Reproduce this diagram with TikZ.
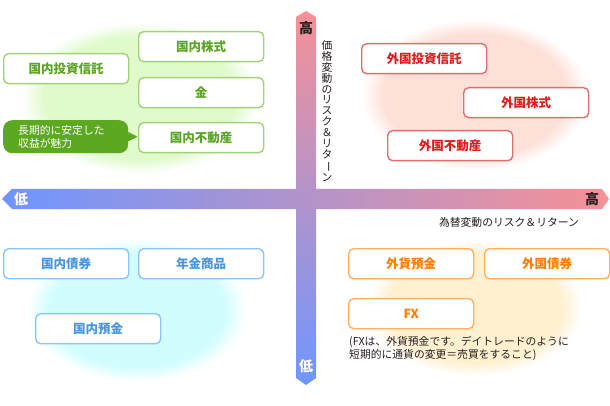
\documentclass[tikz,border=0pt]{standalone}
\usepackage{fontspec}
\usepackage{graphicx}
\newfontfamily\jp{Noto Sans CJK JP}
\definecolor{glowG}{RGB}{224,250,204}
\definecolor{glowR}{RGB}{253,224,215}
\definecolor{glowB}{RGB}{210,253,255}
\definecolor{glowO}{RGB}{255,240,208}
\definecolor{gBorder}{RGB}{160,210,120}
\definecolor{gText}{RGB}{90,165,35}
\definecolor{gFill}{RGB}{92,168,32}
\definecolor{rBorder}{RGB}{225,110,110}
\definecolor{rText}{RGB}{220,30,30}
\definecolor{bBorder}{RGB}{140,195,250}
\definecolor{bText}{RGB}{70,150,225}
\definecolor{oBorder}{RGB}{255,175,100}
\definecolor{oText}{RGB}{255,125,0}
\definecolor{axBlue}{RGB}{110,150,255}
\definecolor{axPink}{RGB}{247,145,150}
\definecolor{axDark}{RGB}{40,30,30}
\pgfdeclareradialshading{glowGs}{\pgfpoint{0bp}{0bp}}{color(0bp)=(glowG); color(14.3bp)=(glowG); color(17.7bp)=(white); color(50bp)=(white)}
\pgfdeclareradialshading{glowRs}{\pgfpoint{0bp}{0bp}}{color(0bp)=(glowR); color(14.3bp)=(glowR); color(17.7bp)=(white); color(50bp)=(white)}
\pgfdeclareradialshading{glowBs}{\pgfpoint{0bp}{0bp}}{color(0bp)=(glowB); color(14.3bp)=(glowB); color(17.7bp)=(white); color(50bp)=(white)}
\pgfdeclareradialshading{glowOs}{\pgfpoint{0bp}{0bp}}{color(0bp)=(glowO); color(14.3bp)=(glowO); color(17.7bp)=(white); color(50bp)=(white)}
\tikzset{
  qbox/.style={rounded corners=5pt, line width=1.4pt, fill=white, minimum width=125pt,
    minimum height=30pt, inner sep=0pt, anchor=north west,
    font=\jp\bfseries\fontsize{12.5}{14}\selectfont},
  gbox/.style={qbox, draw=gBorder, text=gText},
  rbox/.style={qbox, draw=rBorder, text=rText},
  bbox/.style={qbox, draw=bBorder, text=bText},
  obox/.style={qbox, draw=oBorder, text=oText},
  axlabel/.style={font=\jp\bfseries\fontsize{14}{16}\selectfont, inner sep=0pt},
  smalltext/.style={font=\jp\fontsize{10.8}{13.5}\selectfont, inner sep=0pt, text=axDark}
}
\begin{document}
\begin{tikzpicture}[x=1pt,y=-1pt]
\useasboundingbox (0,0) rectangle (610,406);
\fill[white] (0,0) rectangle (610,406);
% glows
\shade[shading=glowGs] (140,98) ellipse [x radius=168pt, y radius=107pt];
\shade[shading=glowRs] (475,95) ellipse [x radius=160pt, y radius=107pt];
\shade[shading=glowBs] (137,310) ellipse [x radius=155pt, y radius=101pt];
\shade[shading=glowOs] (475,308) ellipse [x radius=152pt, y radius=96pt];
% axes
\shade[top color=axPink, bottom color=axBlue] (296,17) -- (306,11) -- (316,17) -- (316,378) -- (306,385) -- (296,378) -- cycle;
\shade[left color=axBlue, right color=axPink] (12,189) -- (602,189) -- (609,199) -- (602,209) -- (12,209) -- (2,199) -- cycle;
\node[axlabel, text=axDark] (yhigh) at (306,28) {高};
\node[axlabel, text=white] (ylow) at (306,366) {低};
\node[axlabel, text=white] (xlow) at (21,199) {低};
\node[axlabel, text=axDark] (xhigh) at (592,199) {高};
\node[smalltext, align=center, font=\jp\fontsize{10.8}{10.9}\selectfont] (ylab) at (327,111)
  {価\\格\\変\\動\\の\\リ\\ス\\ク\\＆\\リ\\タ\\\makebox[1em]{\rotatebox[origin=c]{-90}{ー}}\\ン};
\node[smalltext] (xlab) at (509,222) {為替変動のリスク＆リターン};
% top-left
\node[gbox] (dkabu) at (138,31) {国内株式};
\node[gbox] (dtoshin) at (3,53) {国内投資信託};
\node[gbox] (gold) at (138,77) {金};
\node[gbox] (dfudo) at (138,122) {国内不動産};
\node[rounded corners=9pt, fill=gFill, minimum width=125pt, minimum height=33pt, anchor=north west,
  text=white, font=\jp\fontsize{10.8}{13.5}\selectfont, align=left, inner xsep=15pt, inner ysep=0pt, text width=95pt]
  (callout) at (3,120) {長期的に安定した\\収益が魅力};
\fill[gFill] (callout.east) ++(-1,-5) -- ++(10,5) -- ++(-10,5) -- cycle;
% top-right
\node[rbox] (ftoshin) at (361,43) {外国投資信託};
\node[rbox] (fkabu) at (463,87) {外国株式};
\node[rbox] (ffudo) at (387,130) {外国不動産};
% bottom-left
\node[bbox] (dsai) at (3,248) {国内債券};
\node[bbox] (nenkin) at (138,248) {年金商品};
\node[bbox] (dyokin) at (35,313) {国内預金};
% bottom-right
\node[obox] (fyokin) at (348,248) {外貨預金};
\node[obox] (fsai) at (484,248) {外国債券};
\node[obox] (fx) at (348,298) {FX};
\node[smalltext, anchor=north west, align=left] (note) at (349,336)
  {(FXは、外貨預金です。デイトレードのように\\短期的に通貨の変更＝売買をすること)};
\end{tikzpicture}
\end{document}
